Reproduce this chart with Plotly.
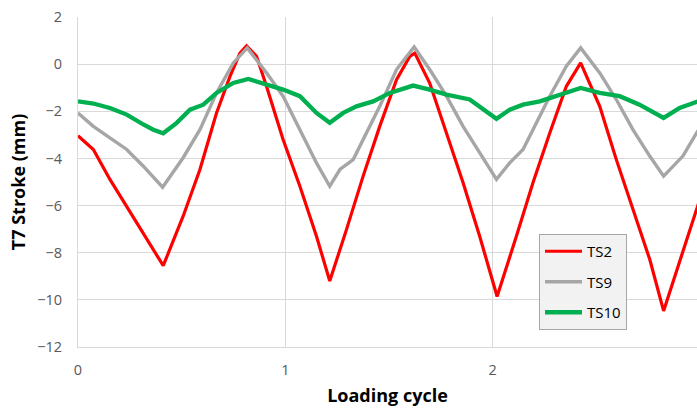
import plotly.graph_objects as go

# ---- data ----
ts2_x = [0, 0.074, 0.154, 0.235, 0.315, 0.363, 0.411, 0.507, 0.588, 0.668, 0.733, 0.781, 0.813, 0.861,
         0.909, 0.989, 1.07, 1.15, 1.214, 1.295, 1.375, 1.455, 1.536, 1.6, 1.624, 1.696, 1.777, 1.857,
         1.937, 2.021, 2.114, 2.194, 2.275, 2.355, 2.424, 2.516, 2.596, 2.676, 2.757, 2.824, 2.901,
         2.983, 3.0]
ts2_y = [-3.04, -3.62, -4.89, -6.03, -7.15, -7.86, -8.55, -6.45, -4.47, -2.07, -0.52, 0.47, 0.78, 0.33,
         -0.94, -3.2, -5.18, -7.3, -9.2, -7.01, -4.75, -2.64, -0.66, 0.33, 0.47, -0.8, -2.92, -5.03,
         -7.3, -9.86, -7.3, -5.03, -2.92, -0.94, 0.05, -1.79, -4.05, -6.17, -8.28, -10.47, -8.42,
         -6.17, -5.7]

ts9_x = [0, 0.074, 0.154, 0.235, 0.315, 0.408, 0.507, 0.588, 0.668, 0.749, 0.816, 0.909, 0.989, 1.07,
         1.15, 1.214, 1.263, 1.327, 1.375, 1.455, 1.536, 1.621, 1.696, 1.777, 1.857, 1.937, 2.018,
         2.082, 2.146, 2.194, 2.275, 2.355, 2.424, 2.516, 2.596, 2.676, 2.757, 2.824, 2.917, 2.983, 3.0]
ts9_y = [-2.07, -2.64, -3.13, -3.62, -4.33, -5.22, -3.97, -2.78, -1.22, 0.05, 0.69, -0.37, -1.36, -2.78,
         -4.19, -5.18, -4.47, -4.05, -3.2, -1.79, -0.23, 0.73, -0.23, -1.36, -2.64, -3.76, -4.89,
         -4.19, -3.62, -2.78, -1.36, -0.09, 0.69, -0.37, -1.5, -2.78, -3.9, -4.75, -3.9, -2.92, -2.7]

ts10_x = [0, 0.074, 0.154, 0.235, 0.315, 0.363, 0.411, 0.476, 0.54, 0.604, 0.668, 0.749, 0.821, 0.909,
          0.989, 1.07, 1.15, 1.214, 1.279, 1.343, 1.423, 1.504, 1.616, 1.696, 1.777, 1.889, 1.953,
          2.018, 2.082, 2.146, 2.227, 2.323, 2.424, 2.516, 2.612, 2.708, 2.824, 2.901, 2.983, 3.0]
ts10_y = [-1.58, -1.67, -1.86, -2.14, -2.56, -2.78, -2.93, -2.49, -1.93, -1.72, -1.22, -0.80, -0.63,
          -0.87, -1.08, -1.36, -2.07, -2.49, -2.07, -1.79, -1.58, -1.22, -0.91, -1.08, -1.29, -1.5,
          -1.93, -2.32, -1.93, -1.72, -1.58, -1.29, -1.01, -1.22, -1.36, -1.72, -2.28, -1.86, -1.58,
          -1.55]

series_names = ["TS2", "TS9", "TS10"]
x_ticks = [0, 1, 2, 3]
y_ticks = [2, 0, -2, -4, -6, -8, -10, -12]

FONT = "Open Sans"

fig = go.Figure()
styles = [("#ff0000", 3.2), ("#a6a6a6", 3.4), ("#00b050", 4.3)]
for name, xs, ys, (col, w) in zip(series_names, [ts2_x, ts9_x, ts10_x], [ts2_y, ts9_y, ts10_y], styles):
    fig.add_trace(go.Scatter(x=xs, y=ys, mode="lines", name=name, legendgroup=name,
                             line=dict(color=col, width=w)))

fig.update_layout(
    width=697, height=408,
    margin=dict(l=78, r=0, t=17, b=61, autoexpand=False),
    paper_bgcolor="white", plot_bgcolor="white",
    font=dict(family=FONT, size=14.5, color="#595959"),
    legend=dict(x=(539 - 78) / 619, y=(347 - 234) / 330, xanchor="left", yanchor="top",
                bgcolor="#f2f2f2", bordercolor="#a6a6a6", borderwidth=1,
                font=dict(family=FONT, size=15, color="#000000"),
                tracegroupgap=8, itemwidth=37),
    showlegend=True,
)
fig.update_xaxes(range=[0, 2.985], tickvals=x_ticks, showgrid=True, gridcolor="#d9d9d9", gridwidth=1,
                 zeroline=False, showline=True, linecolor="#d9d9d9", linewidth=1,
                 ticks="", ticklabelstandoff=10,
                 title=dict(text="Loading cycle", standoff=10,
                            font=dict(family=FONT, size=18, color="#000000", weight="bold")))
fig.update_yaxes(range=[-12, 2], tickvals=y_ticks, showgrid=True, gridcolor="#d9d9d9", gridwidth=1,
                 zeroline=False, showline=True, linecolor="#d9d9d9", linewidth=1,
                 ticks="", ticklabelstandoff=12,
                 title=dict(text="T7 Stroke (mm)", standoff=6,
                            font=dict(family=FONT, size=18, color="#000000", weight="bold")))

fig.write_html("out.html")
